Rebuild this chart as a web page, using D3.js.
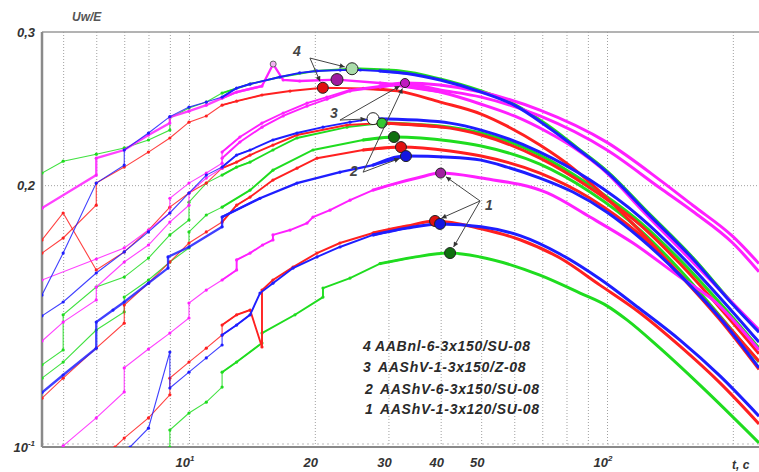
<!DOCTYPE html>
<html>
<head>
<meta charset="utf-8">
<script src="https://cdn.jsdelivr.net/npm/d3@7"></script>
<style>
  body { margin:0; background:#fff; }
  svg { display:block; font-family:"Liberation Sans", Arial, sans-serif; }
  .lbl { font-weight:bold; font-style:italic; fill:#333; }
</style>
</head>
<body>
<div id="chart"></div>
<script>
//data: [t, Uw/E]
// group 4
const blue4 = [[4.45,0.1495],[5,0.1671],[6,0.2011],[7,0.2109],[7,0.2195],[8,0.2296],[9,0.2398],[10,0.2459],[11,0.2492],[12,0.2525],[13,0.2586],[14,0.2614],[16.5,0.2663],[18.4,0.2692],[20.2,0.2706],[23,0.2712],[25.7,0.2713],[28.6,0.2706],[33.2,0.2688],[39.9,0.2642],[50,0.2559],[60,0.2472],[72,0.2335],[84.5,0.2207],[100,0.207],[124.6,0.186],[160.6,0.1645],[200,0.1458],[231,0.1355]];
const green4 = [[4.45,0.2065],[5,0.2131],[6,0.2171],[7,0.2207],[8,0.2254],[9,0.2314],[9,0.2389],[10,0.2453],[11,0.2492],[12,0.2552],[14,0.2614],[16.5,0.2663],[20,0.2706],[24.55,0.2722],[32,0.2706],[39.9,0.2649],[50,0.2566],[60,0.2478],[72,0.2345],[84.5,0.2212],[100,0.2076],[124.6,0.1866],[160.6,0.165],[200,0.1462],[231,0.1358]];
const magenta4 = [[4.45,0.1882],[6,0.2054],[6,0.2148],[7,0.2195],[8,0.2284],[9,0.2357],[9,0.2395],[10,0.2433],[11,0.2472],[12,0.2518],[13,0.2559],[14.95,0.26],[15.9,0.2756],[16.8,0.2642],[18.4,0.2635],[22.6,0.2645],[28.6,0.2621],[39.9,0.2559],[50,0.2478],[60,0.2402],[72,0.2302],[82.9,0.2212],[100,0.2065],[120,0.1882],[149.5,0.1689],[186.3,0.1515],[231,0.1363]];
const red4 = [[4.45,0.1671],[5,0.1739],[6,0.1897],[6,0.2011],[7,0.2098],[8,0.2183],[9,0.2266],[10,0.2363],[11,0.2402],[12,0.2472],[13,0.2498],[14.95,0.2539],[17.45,0.2566],[20.9,0.2588],[26.1,0.2584],[31.5,0.2567],[39.9,0.2492],[50,0.2414],[57.7,0.2338],[69.1,0.2224],[82.9,0.2092],[100,0.1932],[115.4,0.1805],[149.5,0.158],[186.3,0.141],[231,0.1255]];
// group 3
const magenta3 = [[4.45,0.1556],[6,0.1645],[7,0.1694],[8,0.1776],[9,0.1858],[9,0.1932],[10,0.2011],[11,0.2065],[12,0.212],[12,0.2183],[13.24,0.2272],[14.95,0.2357],[16.8,0.2421],[19.16,0.2485],[21.38,0.2525],[24.28,0.2573],[28.64,0.26],[32.86,0.2621],[39.86,0.2607],[50,0.2559],[69.1,0.244],[100,0.224],[133.9,0.2027],[160.6,0.1895],[200.2,0.1745],[231,0.1625]];
const blue3 = [[4.45,0.1415],[5,0.1468],[6,0.1585],[7,0.1676],[8,0.1767],[9,0.1858],[10,0.1959],[11,0.2054],[12,0.2098],[13,0.2166],[14,0.2195],[15.88,0.2254],[18.13,0.2296],[20.92,0.2332],[24.28,0.2363],[27.56,0.2385],[31.45,0.2382],[35.12,0.2376],[42.13,0.2357],[50,0.2314],[69.1,0.2183],[91.1,0.2027],[120,0.1838],[149.5,0.1663],[186.3,0.1485],[231,0.132]];
const red3 = [[4.45,0.173],[5,0.1858],[6,0.1598],[7,0.1676],[8,0.1776],[9,0.1887],[10,0.1959],[11,0.2011],[12,0.2092],[13,0.2126],[14,0.2166],[15.88,0.2224],[18.13,0.2284],[23.88,0.2345],[28.64,0.2357],[42.13,0.2326],[50,0.2284],[69.1,0.2148],[91.1,0.1985],[120,0.18],[149.5,0.1624],[186.3,0.1445],[231,0.128]];
const green3 = [[4.45,0.1243],[5,0.1293],[5,0.1419],[6,0.1527],[7,0.1568],[8,0.1649],[9,0.1753],[10,0.1824],[10,0.1912],[11,0.2011],[12,0.2054],[13,0.2098],[14,0.2126],[15.88,0.2195],[18.13,0.2266],[23.88,0.2332],[28.95,0.2357],[42.13,0.2332],[50,0.2296],[69.1,0.2166],[91.1,0.2],[120,0.1814],[149.5,0.1641],[186.3,0.1464],[231,0.1299]];
// group 2
const magenta2 = [[4.45,0.1324],[5,0.1392],[6,0.1476],[6,0.1527],[7,0.1632],[8,0.1707],[9,0.1814],[10,0.1897],[10,0.1959],[11,0.2038],[12,0.2092],[12,0.2148],[13.24,0.2242],[14.95,0.2332],[16.8,0.2402],[19.16,0.2466],[21.38,0.2511],[24.28,0.2566],[28.64,0.2593],[32.86,0.2614],[39.86,0.2573],[50,0.2525],[69.1,0.2402],[100,0.2195],[133.9,0.1985],[160.6,0.1865],[200.2,0.1715],[231,0.159]];
const green2 = [[4.45,0.12],[5,0.1252],[6,0.1363],[7,0.143],[7,0.1487],[8,0.1556],[9,0.1632],[10,0.1694],[10,0.1767],[11,0.1848],[12,0.1887],[14,0.1974],[15.88,0.2081],[19.8,0.2195],[26.09,0.2254],[30.93,0.2272],[42.13,0.2248],[50,0.2218],[69.1,0.2114],[91.1,0.1964],[120,0.1776],[149.5,0.1598],[186.3,0.1415],[231,0.1252]];
const red2 = [[4.45,0.1138],[5,0.12],[6,0.1299],[7,0.1388],[7,0.1456],[8,0.1543],[9,0.1632],[10,0.1716],[11,0.1767],[12,0.1814],[13,0.1897],[14,0.1938],[15.88,0.2027],[18.13,0.2092],[20.24,0.2148],[26.09,0.2195],[32.14,0.2212],[42.13,0.2189],[50,0.216],[69.1,0.2065],[91.1,0.1932],[120,0.1753],[149.5,0.1576],[186.3,0.14],[231,0.1228]];
const blue2 = [[4.45,0.1155],[5,0.121],[6,0.1299],[6,0.1392],[6.58,0.1437],[7,0.1468],[8,0.1543],[8.91,0.1606],[8.91,0.1654],[10,0.1698],[12,0.1791],[12,0.1838],[14.79,0.1932],[18.13,0.2011],[22.97,0.207],[27.56,0.2109],[33.04,0.216],[42.13,0.2154],[50,0.2137],[57.66,0.2098],[69.1,0.2038],[82.9,0.1964],[100,0.1862],[120,0.1739],[149.5,0.1576],[186.3,0.1407],[231,0.1233]];
// group 1
const magenta1 = [[5,0.1003],[6,0.108],[7,0.1157],[7,0.1233],[8,0.1296],[9,0.1352],[10,0.1407],[10,0.1464],[11,0.1515],[12,0.1556],[13,0.1598],[13,0.1641],[14,0.1671],[15,0.1707],[15.88,0.173],[15.88,0.1753],[17.45,0.1776],[19.16,0.1809],[19.8,0.1838],[21.74,0.1872],[24.28,0.1922],[27.56,0.1974],[31.45,0.2011],[35.12,0.2038],[40,0.2065],[50,0.2038],[72,0.1959],[91.1,0.1838],[115.4,0.1716],[149.5,0.1568],[179.3,0.1476],[231,0.1293]];
const red1 = [[6.65,0.1],[7,0.1024],[8,0.108],[9,0.1148],[9,0.12],[10,0.1252],[11,0.1299],[12,0.1345],[12,0.1381],[13,0.1419],[14,0.1437],[14.95,0.1303],[14.95,0.1515],[15.88,0.1556],[17.74,0.161],[20.24,0.1671],[22.97,0.1716],[27.56,0.1762],[33.2,0.1795],[38.78,0.1819],[50,0.1782],[61.93,0.1731],[77.2,0.1649],[96.2,0.1535],[120,0.1426],[149.5,0.1306],[186.3,0.1185],[231,0.1063]];
const blue1 = [[7.23,0.1],[8,0.1051],[9,0.1286],[9,0.1169],[10,0.1219],[11,0.1266],[12,0.131],[12,0.1345],[13,0.1381],[14,0.1419],[14.79,0.1503],[15.88,0.1543],[17.74,0.1606],[20.24,0.1654],[22.97,0.1698],[27.56,0.1753],[33.2,0.1785],[39.86,0.1805],[50,0.1791],[61.93,0.175],[77.2,0.1667],[96.2,0.156],[120,0.1441],[149.5,0.1327],[186.3,0.1207],[231,0.1085]];
const green1 = [[9,0.1],[9,0.1046],[10,0.1094],[11,0.1126],[12,0.1172],[12,0.1219],[13,0.1252],[14.95,0.1317],[14.95,0.1352],[17.93,0.1419],[20.92,0.1487],[20.92,0.1523],[24.28,0.1564],[28.64,0.1625],[34.35,0.1652],[42.13,0.1671],[49.7,0.1654],[69.1,0.1576],[86.2,0.1503],[100,0.1453],[111.6,0.14],[133.9,0.1299],[166.9,0.1178],[231,0.1011]];

//time of the marked maximum on each curve
const peakT = {green4:24.55, magenta4:22.6, red4:20.9, magenta3:32.86, blue3:27.56, green3:28.95,
               green2:30.93, red2:32.14, blue2:33.04, magenta1:40, red1:38.78, blue1:39.86, green1:42.13};
const spikeT = {magenta4:15.9};

//axis ticks
const gridT = [5,6,7,8,9,10,20,30,40,50,60,70,80,90,100,200];
const xTicks = [10,20,30,40,50,100];
const xTickBase = ['10','20','30','40','50','10'];
const xTickSup = ['1','','','','','2'];
const yTicks = [0.3,0.2,0.1];
const yTickBase = ['0,3','0,2','10'];
const yTickSup = ['','','-1'];

//legend
const legendNums = ['4','3','2','1'];
const legendNames = ['AABnl-6-3x150/SU-08','AAShV-1-3x150/Z-08','AAShV-6-3x150/SU-08','AAShV-1-3x120/SU-08'];

//arrow notes: label position, arrow start, target curves
const notes = [
  {label:'4', text:[17.74,0.2815], from:[19.47,0.280], to:['green4','red4']},
  {label:'3', text:[21.74,0.2388], from:[22.97,0.2376], to:['magenta3','blue3']},
  {label:'2', text:[24.28,0.2048], from:[26.09,0.207], to:['blue2','magenta3']},
  {label:'1', text:[51.06,0.1873], from:[49.7,0.1918], to:['magenta1','red1','green1']}
];

const CONSTANTS = {
  WIDTH:759,
  HEIGHT:472,
  LEFT:42,
  RIGHT:759,
  TOP:32,
  BOTTOM:447,
  THIN_END:13,   //curves get thicker from here on
  THICK_FROM:30  //dense markers merge into a thick smooth line here
};

const COLORS = {blue:'#1e1eff', red:'#ff2020', green:'#1fdc1f', magenta:'#ff20ff'};

const series = [
  {id:'green1', c:'green', d:green1}, {id:'green2', c:'green', d:green2},
  {id:'green3', c:'green', d:green3}, {id:'green4', c:'green', d:green4},
  {id:'red1', c:'red', d:red1}, {id:'red2', c:'red', d:red2},
  {id:'red3', c:'red', d:red3}, {id:'red4', c:'red', d:red4},
  {id:'magenta1', c:'magenta', d:magenta1}, {id:'magenta2', c:'magenta', d:magenta2},
  {id:'magenta3', c:'magenta', d:magenta3}, {id:'magenta4', c:'magenta', d:magenta4},
  {id:'blue1', c:'blue', d:blue1}, {id:'blue2', c:'blue', d:blue2},
  {id:'blue3', c:'blue', d:blue3}, {id:'blue4', c:'blue', d:blue4}
];
const byId = {};
series.forEach(s => byId[s.id] = s);

//styles of the marked maxima
const peakStyle = {
  green4:['#aadcaa',6], magenta4:['#a01aa0',6], red4:['#e01010',5.5],
  magenta3:['#c01ac0',4.5], blue3:['#ffffff',6], green3:['#33c833',5],
  green2:['#0f6f0f',5.5], red2:['#e01010',5.5], blue2:['#1515e0',5.5],
  magenta1:['#a020a0',5], red1:['#e01010',5.5], blue1:['#1515e0',5.5], green1:['#0f6f0f',5.5]
};
const wideLeft = ['blue2','magenta4'];

const x = d3.scaleLog().domain([4.45,231]).range([CONSTANTS.LEFT,CONSTANTS.RIGHT]);
const y = d3.scaleLog().domain([0.1,0.3]).range([CONSTANTS.BOTTOM,CONSTANTS.TOP]);

const svg = d3.select('#chart').append('svg')
  .attr('width',CONSTANTS.WIDTH)
  .attr('height',CONSTANTS.HEIGHT);

const defs = svg.append('defs');
defs.append('clipPath').attr('id','plot')
  .append('rect')
  .attr('x',CONSTANTS.LEFT).attr('y',CONSTANTS.TOP)
  .attr('width',CONSTANTS.RIGHT-CONSTANTS.LEFT)
  .attr('height',CONSTANTS.BOTTOM-CONSTANTS.TOP);
defs.append('marker').attr('id','ah')
  .attr('viewBox','0 0 10 10').attr('refX',10).attr('refY',5)
  .attr('markerWidth',8).attr('markerHeight',5).attr('orient','auto')
  .append('path').attr('d','M0,0L10,5L0,10z').attr('fill','#333');

buildGrid();
buildCurves();
buildPeaks();
buildNotes();
buildLabels();

//dotted grid and frame
function buildGrid(){
  let h = CONSTANTS.BOTTOM - CONSTANTS.TOP;
  let w = CONSTANTS.RIGHT - CONSTANTS.LEFT;

  let gx = svg.append('g')
    .attr('transform','translate(0,' + CONSTANTS.BOTTOM + ')')
    .call(d3.axisBottom(x).tickValues(gridT).tickSize(-h).tickFormat(''));
  gx.select('.domain').remove();
  gx.selectAll('line').attr('stroke','#a0a0a0').attr('stroke-dasharray','1,2');

  let gy = svg.append('g')
    .attr('transform','translate(' + CONSTANTS.LEFT + ',0)')
    .call(d3.axisLeft(y).tickValues([0.2]).tickSize(-w).tickFormat(''));
  gy.select('.domain').remove();
  gy.selectAll('line').attr('stroke','#a0a0a0').attr('stroke-dasharray','1,2');

  //frame
  svg.append('line').attr('x1',CONSTANTS.LEFT).attr('x2',CONSTANTS.RIGHT)
    .attr('y1',CONSTANTS.TOP).attr('y2',CONSTANTS.TOP)
    .attr('stroke','#9a9a9a').attr('stroke-width',1.5);
  svg.append('line').attr('x1',CONSTANTS.LEFT).attr('x2',CONSTANTS.RIGHT)
    .attr('y1',CONSTANTS.BOTTOM - 3).attr('y2',CONSTANTS.BOTTOM - 3)
    .attr('stroke','#bbb').attr('stroke-dasharray','2,3');
  svg.append('line').attr('x1',CONSTANTS.LEFT).attr('x2',CONSTANTS.RIGHT)
    .attr('y1',CONSTANTS.BOTTOM).attr('y2',CONSTANTS.BOTTOM)
    .attr('stroke','#8a8a8a').attr('stroke-width',2);
  svg.append('line').attr('x1',CONSTANTS.LEFT).attr('x2',CONSTANTS.LEFT)
    .attr('y1',CONSTANTS.TOP).attr('y2',CONSTANTS.BOTTOM)
    .attr('stroke','#8a8a8a').attr('stroke-width',2.5);
}

//points between a and b, plus one neighbour on each side
function span(d, a, b){
  return d.filter((p,i) =>
    (p[0] >= a || (d[i+1] && d[i+1][0] >= a)) &&
    (p[0] <= b || (i > 0 && d[i-1][0] <= b)));
}

function buildCurves(){
  let line = d3.line().x(d => x(d[0])).y(d => y(d[1]));
  let smooth = d3.line().x(d => x(d[0])).y(d => y(d[1])).curve(d3.curveMonotoneX);
  let g = svg.append('g').attr('clip-path','url(#plot)');

  series.forEach(s => {
    let col = COLORS[s.c];
    let base = wideLeft.includes(s.id) ? 2.3 : 1.1;
    g.append('path').attr('d',line(span(s.d,0,CONSTANTS.THIN_END))).attr('fill','none')
      .attr('stroke',col).attr('stroke-width',base).attr('stroke-opacity',0.85);
    g.append('path').attr('d',line(span(s.d,CONSTANTS.THIN_END,CONSTANTS.THICK_FROM))).attr('fill','none')
      .attr('stroke',col).attr('stroke-width',Math.max(base,1.9));
    g.append('path').attr('d',smooth(span(s.d,CONSTANTS.THICK_FROM,1e9))).attr('fill','none')
      .attr('stroke',col).attr('stroke-width',3);
    g.selectAll(null).data(s.d.filter(p => p[0] < CONSTANTS.THICK_FROM)).enter().append('circle')
      .attr('cx',d => x(d[0])).attr('cy',d => y(d[1]))
      .attr('r',1.6).attr('fill',col);
  });
}

function pointAt(id, t){
  return byId[id].d.find(p => p[0] === t);
}

function buildPeaks(){
  let order = ['green4','magenta4','red4','magenta3','blue3','green3','green2','red2','blue2','magenta1','red1','blue1','green1'];
  order.forEach(id => {
    let p = pointAt(id, peakT[id]);
    svg.append('circle')
      .attr('cx',x(p[0])).attr('cy',y(p[1]))
      .attr('r',peakStyle[id][1])
      .attr('fill',peakStyle[id][0])
      .attr('stroke','#222').attr('stroke-width',1);
  });
  Object.keys(spikeT).forEach(id => {
    let p = pointAt(id, spikeT[id]);
    svg.append('circle')
      .attr('cx',x(p[0])).attr('cy',y(p[1]))
      .attr('r',3).attr('fill','#f3b0f3')
      .attr('stroke','#666').attr('stroke-width',1);
  });
}

function buildNotes(){
  notes.forEach(n => {
    let x0 = x(n.from[0]), y0 = y(n.from[1]);
    n.to.forEach(id => {
      let p = pointAt(id, peakT[id]);
      let x1 = x(p[0]), y1 = y(p[1]);
      let len = Math.hypot(x1 - x0, y1 - y0);
      let cut = peakStyle[id][1] + 1.5;
      svg.append('line')
        .attr('x1',x0).attr('y1',y0)
        .attr('x2',x1 - (x1 - x0) / len * cut)
        .attr('y2',y1 - (y1 - y0) / len * cut)
        .attr('stroke','#444').attr('stroke-width',1)
        .attr('marker-end','url(#ah)');
    });
    svg.append('text').attr('class','lbl')
      .attr('x',x(n.text[0])).attr('y',y(n.text[1]))
      .attr('font-size',14).style('fill','#444')
      .text(n.label);
  });
}

function buildLabels(){
  //x tick labels
  xTicks.forEach((t,i) => {
    let txt = svg.append('text').attr('class','lbl')
      .attr('x',x(t) - 4).attr('y',467)
      .attr('font-size',13).attr('text-anchor','middle')
      .text(xTickBase[i]);
    if(xTickSup[i]){
      txt.append('tspan').attr('font-size',8).attr('dy',-6).text(xTickSup[i]);
    }
  });
  //y tick labels
  yTicks.forEach((v,i) => {
    let txt = svg.append('text').attr('class','lbl')
      .attr('x',35).attr('y',y(v) + 5)
      .attr('font-size',13).attr('text-anchor','end')
      .text(yTickBase[i]);
    if(yTickSup[i]){
      txt.append('tspan').attr('font-size',8).attr('dy',-6).text(yTickSup[i]);
    }
  });
  //axis titles
  svg.append('text').attr('class','lbl')
    .attr('x',72).attr('y',21).attr('font-size',12).style('fill','#555')
    .text('Uw/E');
  svg.append('text').attr('class','lbl')
    .attr('x',732).attr('y',469).attr('font-size',12)
    .text('t, c');

  //legend
  let lx = [363,363,365,365];
  let nx = [375,378,380,380];
  let ly = [351,372,394,414];
  legendNums.forEach((n,i) => {
    svg.append('text').attr('class','lbl')
      .attr('x',lx[i]).attr('y',ly[i]).attr('font-size',14)
      .style('fill','#2a2a2a').text(n);
    svg.append('text').attr('class','lbl')
      .attr('x',nx[i]).attr('y',ly[i]).attr('font-size',14)
      .attr('letter-spacing',0.7)
      .style('fill','#2a2a2a').text(legendNames[i]);
  });
}
</script>
</body>
</html>
